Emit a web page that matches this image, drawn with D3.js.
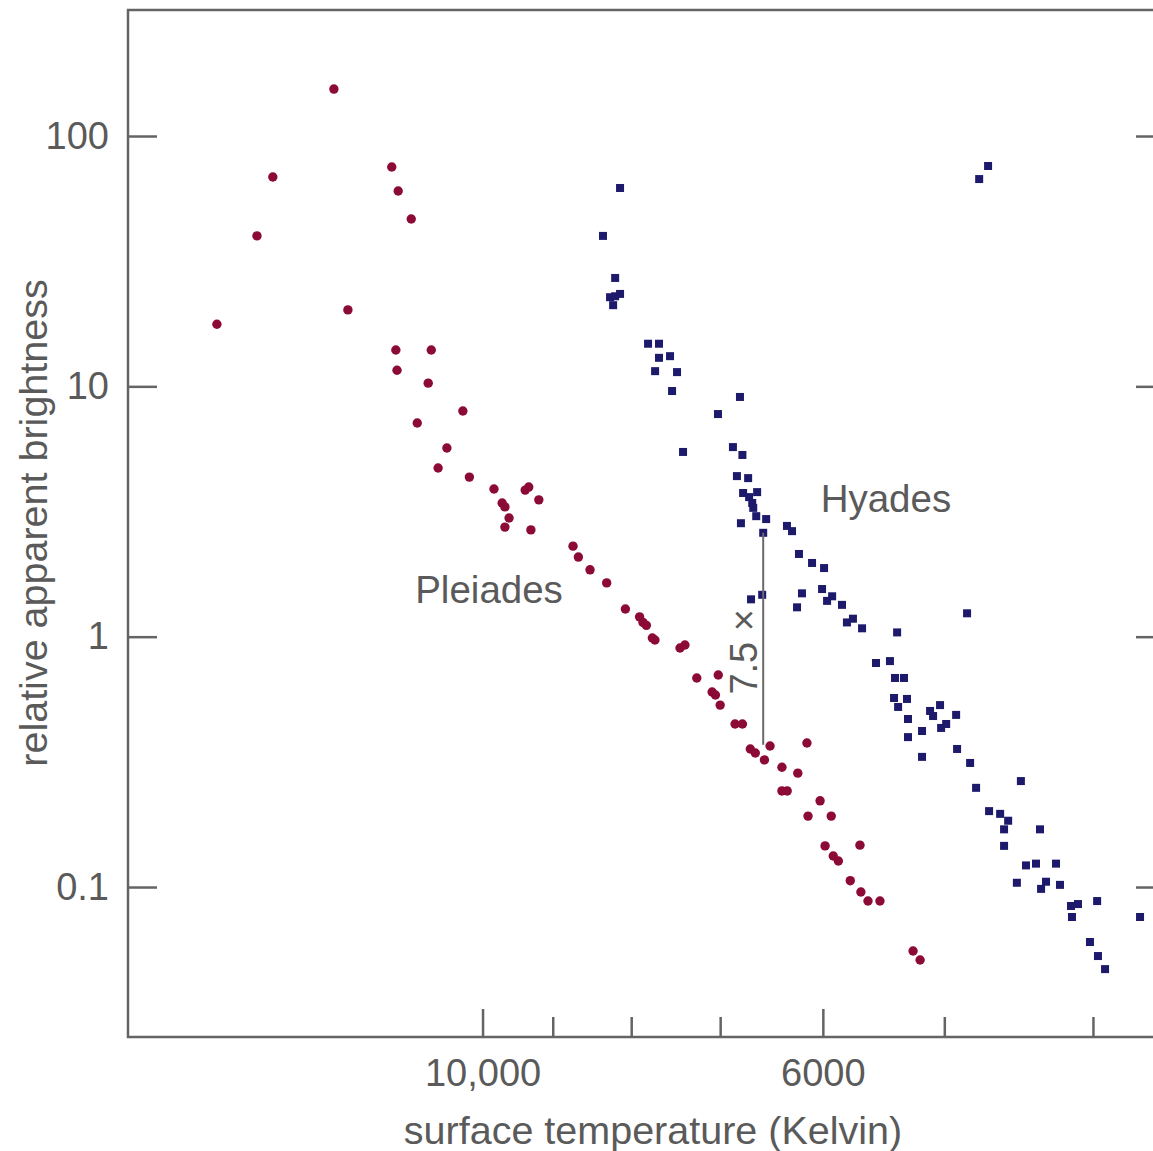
<!DOCTYPE html>
<html>
<head>
<meta charset="utf-8">
<script src="https://cdn.jsdelivr.net/npm/d3@7"></script>
<style>
  html, body { margin: 0; padding: 0; background: #fff; }
  svg text { font-family: "Liberation Sans", Arial, sans-serif; fill: #5a5a5a; }
  .axis path { display: none; }
  .axis line { stroke: #646464; stroke-width: 2.5; }
</style>
</head>
<body>
<svg id="chart"></svg>
<script>
// surface temperature (K) and relative apparent brightness
const pleiadesTemp = [14900, 14030, 13700, 12500, 12240, 11460, 11350, 11130, 11390, 11370,
  10800, 10850, 10300, 11030, 10550, 10690, 10200, 9830, 9380, 9330,
  9190, 9710, 9670, 9610, 9670, 9300, 8730, 8660, 8510, 8300,
  8070, 7900, 7860, 7820, 7750, 7720, 7435, 7380, 7250, 7020,
  7085, 7050, 7000, 6845, 6770, 6690, 6640, 6550, 6495, 6145,
  6380, 6230, 6380, 6330, 6025, 6135, 5925, 5980, 5675, 5907,
  5862, 5758, 5667, 5607, 5507, 5240, 5185];
const pleiadesBright = [17.7, 39.9, 68.6, 154, 20.2, 75.2, 60.3, 46.6, 13.97, 11.6,
  13.97, 10.3, 7.97, 7.14, 5.67, 4.72, 4.34, 3.89, 3.85, 3.96,
  3.52, 3.42, 3.30, 2.98, 2.74, 2.67, 2.30, 2.08, 1.85, 1.64,
  1.29, 1.20, 1.14, 1.11, 0.988, 0.970, 0.901, 0.926, 0.684, 0.703,
  0.601, 0.585, 0.533, 0.448, 0.448, 0.356, 0.343, 0.322, 0.366, 0.376,
  0.301, 0.285, 0.242, 0.242, 0.221, 0.192, 0.192, 0.146, 0.147, 0.133,
  0.127, 0.106, 0.0955, 0.0879, 0.0879, 0.0555, 0.0511];

const hyadesTemp = [8135, 8346, 8195, 8258, 8195, 8135, 8220, 7800, 7673, 7673,
  7547, 7718, 7468, 7524, 6795, 7023, 7401, 6867, 6770, 6826,
  6712, 6763, 6702, 6622, 6671, 6661, 6631, 6533, 6562, 6785,
  6332, 6284, 6219, 6098, 5989, 6683, 6572, 6191, 6237, 6007,
  5917, 5962, 5830, 5787, 5735, 5657, 5367, 4832, 5540, 5425,
  5384, 5312, 5392, 5288, 5359, 5280, 5280, 5170, 5170, 5108,
  5032, 5085, 4912, 5024, 4986, 4905, 4810, 4767, 4457, 4675,
  4598, 4543, 4571, 4571, 4331, 4423, 4357, 4228, 4484, 4324,
  4292, 4203, 4134, 4091, 3975, 4128, 3727, 4018, 3970, 3928,
  4745, 4682];
const hyadesBright = [62.0, 39.9, 27.1, 22.7, 22.9, 23.4, 21.1, 14.8, 14.8, 13.0,
  13.2, 11.5, 11.4, 9.58, 9.07, 7.75, 5.47, 5.72, 5.32, 4.38,
  4.30, 3.75, 3.61, 3.78, 3.42, 3.27, 3.03, 2.95, 2.60, 2.84,
  2.77, 2.64, 2.14, 1.97, 1.88, 1.41, 1.47, 1.49, 1.31, 1.55,
  1.45, 1.39, 1.34, 1.14, 1.18, 1.08, 1.04, 1.24, 0.785, 0.799,
  0.684, 0.684, 0.569, 0.564, 0.524, 0.469, 0.397, 0.420, 0.331, 0.505,
  0.533, 0.482, 0.487, 0.432, 0.448, 0.356, 0.313, 0.249, 0.265, 0.201,
  0.196, 0.184, 0.170, 0.146, 0.170, 0.122, 0.124, 0.124, 0.104, 0.0983,
  0.105, 0.102, 0.0840, 0.0855, 0.0879, 0.0759, 0.0759, 0.0603, 0.0530, 0.0470,
  67.3, 75.9];

const yTicks = [0.1, 1, 10, 100];
const yTickLabels = ["0.1", "1", "10", "100"];
const xMajorTicks = [10000, 6000];
const xMajorLabels = ["10,000", "6000"];
const xMinorTicks = [9000, 8000, 7000, 5000, 4000];

// 7.5x gap between the two main sequences
const gapTemp = 6562;
const gapTop = 2.6;
const gapBottom = 0.37;
const gapLabel = "7.5 ×";

const width = 1153, height = 1151;
const plot = { left: 128, right: 1165, top: 10, bottom: 1037 };

const svg = d3.select("#chart").attr("width", width).attr("height", height);

// temperature runs hot -> cool from left to right
const x = d3.scaleLog().domain([17027, 3590]).range([plot.left, plot.right]);
const y = d3.scaleLog().domain([0.02517, 318.7]).range([plot.bottom, plot.top]);

// frame
svg.append("rect")
  .attr("x", plot.left).attr("y", plot.top)
  .attr("width", plot.right - plot.left).attr("height", plot.bottom - plot.top)
  .attr("fill", "none").attr("stroke", "#646464").attr("stroke-width", 2.5);

// left axis: ticks point inward
svg.append("g")
  .attr("class", "axis")
  .attr("transform", "translate(" + plot.left + ",0)")
  .call(d3.axisLeft(y).tickValues(yTicks).tickSize(-29).tickPadding(19)
    .tickFormat((d, i) => yTickLabels[i]))
  .selectAll("text").style("font-size", "38px");

// right axis ticks, no labels
svg.append("g")
  .attr("class", "axis")
  .attr("transform", "translate(" + plot.right + ",0)")
  .call(d3.axisRight(y).tickValues(yTicks).tickSize(-29).tickFormat(""));

// bottom axis
svg.append("g")
  .attr("class", "axis")
  .attr("transform", "translate(0," + plot.bottom + ")")
  .call(d3.axisBottom(x).tickValues(xMajorTicks).tickSize(-28).tickPadding(22)
    .tickFormat((d, i) => xMajorLabels[i]))
  .selectAll("text").style("font-size", "38px");

svg.append("g")
  .attr("class", "axis")
  .attr("transform", "translate(0," + plot.bottom + ")")
  .call(d3.axisBottom(x).tickValues(xMinorTicks).tickSize(-20).tickFormat(""));

// axis titles
svg.append("text")
  .attr("x", 653).attr("y", 1130)
  .attr("text-anchor", "middle").attr("dominant-baseline", "central")
  .style("font-size", "39.5px")
  .text("surface temperature (Kelvin)");

svg.append("text")
  .attr("transform", "translate(33,523) rotate(-90)")
  .attr("text-anchor", "middle").attr("dominant-baseline", "central")
  .style("font-size", "39.5px")
  .text("relative apparent brightness");

// Pleiades: dark red dots
const pleiades = pleiadesTemp.map((t, i) => ({ t: t, b: pleiadesBright[i] }));
svg.append("g").selectAll("circle")
  .data(pleiades)
  .enter().append("circle")
  .attr("cx", d => x(d.t))
  .attr("cy", d => y(d.b))
  .attr("r", 4.7)
  .attr("fill", "#8c0a36");

// Hyades: navy squares
const hyades = hyadesTemp.map((t, i) => ({ t: t, b: hyadesBright[i] }));
const sq = 8;
svg.append("g").selectAll("rect")
  .data(hyades)
  .enter().append("rect")
  .attr("x", d => x(d.t) - sq / 2)
  .attr("y", d => y(d.b) - sq / 2)
  .attr("width", sq).attr("height", sq)
  .attr("fill", "#1d1a6c");

// gap marker
svg.append("line")
  .attr("x1", x(gapTemp)).attr("x2", x(gapTemp))
  .attr("y1", y(gapTop)).attr("y2", y(gapBottom))
  .attr("stroke", "#6a6a6a").attr("stroke-width", 2);

const gapMid = Math.sqrt(gapTop * gapBottom);
svg.append("text")
  .attr("transform", "translate(" + (x(gapTemp) - 19) + "," + (y(gapMid) + 13) + ") rotate(-90)")
  .attr("text-anchor", "middle").attr("dominant-baseline", "central")
  .style("font-size", "38px")
  .text(gapLabel);

// cluster names
svg.append("text")
  .attr("x", x(5458)).attr("y", y(3.58))
  .attr("text-anchor", "middle").attr("dominant-baseline", "central")
  .style("font-size", "38.5px")
  .text("Hyades");

svg.append("text")
  .attr("x", x(9903)).attr("y", y(1.55))
  .attr("text-anchor", "middle").attr("dominant-baseline", "central")
  .style("font-size", "38.5px")
  .text("Pleiades");
</script>
</body>
</html>
